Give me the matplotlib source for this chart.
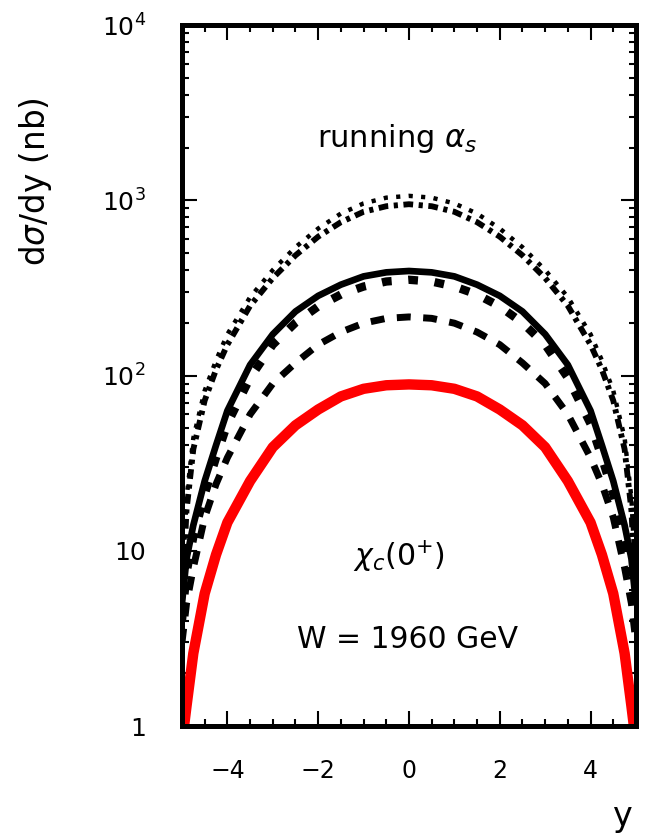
import matplotlib
matplotlib.use("Agg")
import matplotlib.pyplot as plt
from matplotlib.ticker import FixedLocator, NullFormatter, LogLocator

plt.rcParams['font.family'] = ['DejaVu Sans']
plt.rcParams['lines.scale_dashes'] = False

# rapidity grid
rap = [-5.0, -4.9, -4.75, -4.5, -4.25, -4.0, -3.5, -3.0, -2.5, -2.0, -1.5, -1.0, -0.5, 0.0,
       0.5, 1.0, 1.5, 2.0, 2.5, 3.0, 3.5, 4.0, 4.25, 4.5, 4.75, 4.9, 5.0]

# d sigma / dy (nb)
dotted_vals = [6, 20, 44, 82, 122, 172, 280, 400, 540, 690, 840, 960, 1035, 1060,
               1035, 960, 840, 690, 540, 400, 280, 172, 122, 82, 44, 20, 6]
dashdot_vals = [5, 17, 38, 72, 108, 150, 250, 360, 485, 620, 750, 860, 925, 950,
                925, 860, 750, 620, 485, 360, 250, 150, 108, 72, 38, 17, 5]
solid_vals = [5, 9, 14, 25, 40, 63, 115, 172, 232, 285, 330, 368, 388, 395,
              388, 368, 330, 285, 232, 172, 115, 63, 40, 25, 14, 9, 5]
bigdash_vals = [4, 7.5, 12, 21, 34, 53, 97, 150, 200, 248, 290, 322, 344, 352,
                344, 322, 290, 248, 200, 150, 97, 53, 34, 21, 12, 7.5, 4]
dash_vals = [3, 5, 8, 15.5, 24, 34, 60, 90, 118, 150, 177, 199, 212, 216,
             212, 199, 177, 150, 118, 90, 60, 34, 24, 15.5, 8, 5, 3]
red_vals = [0.8, 1.3, 2.6, 5.7, 9.5, 14.5, 25, 39, 52, 64, 76, 84, 88, 89,
            88, 84, 76, 64, 52, 39, 25, 14.5, 9.5, 5.7, 2.6, 1.3, 0.8]

xticks = [-4, -2, 0, 2, 4]
xtick_labels = ['\u22124', '\u22122', '0', '2', '4']
yticks = [1, 10, 100, 1000, 10000]
ytick_labels = ['1', '10', r'$10^{2}$', r'$10^{3}$', r'$10^{4}$']

fig = plt.figure(figsize=(6.49, 8.35), dpi=100)
ax = fig.add_axes([0.2804, 0.1305, 0.6995, 0.8395])

ax.plot(rap, dotted_vals, color='black', lw=3.2, dashes=(3, 6), dash_capstyle='butt')
ax.plot(rap, dashdot_vals, color='black', lw=4.2, dashes=(7, 4, 3, 4), dash_capstyle='butt')
ax.plot(rap, solid_vals, color='black', lw=4.8, solid_capstyle='butt')
ax.plot(rap, bigdash_vals, color='black', lw=6.0, dashes=(7, 12), dash_capstyle='butt')
ax.plot(rap, dash_vals, color='black', lw=5.0, dashes=(10, 9), dash_capstyle='butt')
ax.plot(rap, red_vals, color='#ff0000', lw=7.5, solid_capstyle='butt')

ax.set_yscale('log')
ax.set_xlim(-5, 5)
ax.set_ylim(1, 10000)

for s in ax.spines.values():
    s.set_linewidth(3.6)

ax.xaxis.set_major_locator(FixedLocator(xticks))
ax.set_xticklabels(xtick_labels)
ax.xaxis.set_minor_locator(FixedLocator([v / 2 for v in range(-10, 11)]))
ax.yaxis.set_major_locator(FixedLocator(yticks))
ax.set_yticklabels(ytick_labels)
ax.yaxis.set_minor_locator(LogLocator(base=10, subs=range(2, 10)))
ax.yaxis.set_minor_formatter(NullFormatter())

ax.tick_params(which='both', direction='in', top=True, right=True, width=1.5)
ax.tick_params(which='major', length=10.5)
ax.tick_params(which='minor', length=5)
ax.tick_params(axis='x', which='major', labelsize=17, pad=24)
ax.tick_params(axis='y', which='major', labelsize=18, pad=26)

fig.text(0.054, 0.782, r'd$\sigma$/dy (nb)', rotation=90, fontsize=23.5, ha='center', va='center')
fig.text(0.958, 0.022, 'y', fontsize=24, ha='center', va='center')

ax.text(-0.26, 2265, r'running $\alpha_s$', fontsize=22, ha='center', va='center')
ax.text(-0.22, 9.3, r'$\chi_c(0^{+})$', fontsize=21.5, ha='center', va='center')
ax.text(-0.02, 3.1, 'W = 1960 GeV', fontsize=21.5, ha='center', va='center')

fig.savefig('out.png', dpi=100)
